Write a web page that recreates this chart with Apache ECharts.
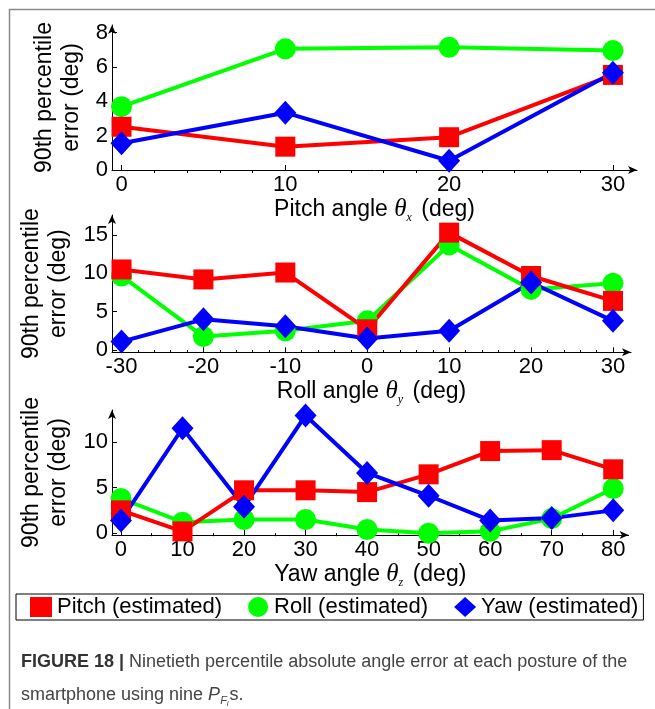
<!DOCTYPE html>
<html><head><meta charset="utf-8">
<script src="https://cdn.jsdelivr.net/npm/echarts@6/dist/echarts.min.js"></script>
<style>html,body{margin:0;padding:0;background:#fff}#c{width:655px;height:709px}</style>
</head><body><div id="c"></div>
<script>
// ---- data ----
const seriesNames = ['Pitch (estimated)', 'Roll (estimated)', 'Yaw (estimated)'];

const pitchAngles = [0, 10, 20, 30];
const pitchPanelPitch = [2.52, 1.36, 1.91, 5.54];
const pitchPanelRoll  = [3.69, 7.06, 7.15, 6.96];
const pitchPanelYaw   = [1.56, 3.34, 0.54, 5.67];

const rollAngles = [-30, -20, -10, 0, 10, 20, 30];
const rollPanelPitch = [10.5, 9.2, 10.1, 2.7, 15.3, 9.65, 6.4];
const rollPanelRoll  = [9.65, 1.75, 2.5, 3.8, 13.7, 7.9, 8.7];
const rollPanelYaw   = [1.1, 4.0, 3.1, 1.5, 2.5, 8.8, 3.8];

const yawAngles = [0, 10, 20, 30, 40, 50, 60, 70, 80];
const yawPanelPitch = [2.5, 0.2, 4.7, 4.7, 4.5, 6.45, 9.0, 9.1, 7.0];
const yawPanelRoll  = [3.8, 1.2, 1.5, 1.5, 0.4, 0.0, 0.2, 1.6, 4.9];
const yawPanelYaw   = [1.4, 11.5, 2.9, 12.9, 6.6, 4.1, 1.4, 1.65, 2.5];

const xTicks1 = [0, 10, 20, 30];
const xMinor1 = [2, 4, 6, 8, 12, 14, 16, 18, 22, 24, 26, 28];
const yTicks1 = [0, 2, 4, 6, 8];
const xTicks2 = [-30, -20, -10, 0, 10, 20, 30];
const xMinor2 = [-28, -26, -24, -22, -18, -16, -14, -12, -8, -6, -4, -2, 2, 4, 6, 8, 12, 14, 16, 18, 22, 24, 26, 28];
const yTicks2 = [0, 5, 10, 15];
const xTicks3 = [0, 10, 20, 30, 40, 50, 60, 70, 80];
const xMinor3 = [5, 15, 25, 35, 45, 55, 65, 75];
const yTicks3 = [0, 5, 10];

// ---- styling ----
const FONT = '"Liberation Sans",Arial,Helvetica,sans-serif';
const SERIF = '"Liberation Serif","DejaVu Serif",serif';
const RED = '#ff0000', GREEN = '#00ff00', BLUE = '#0000ff';

const panels = [
  {xs: pitchAngles, p: pitchPanelPitch, r: pitchPanelRoll, y: pitchPanelYaw,
   grid: {left: 112, right: 18, top: 25, height: 145}, nameGap: 22,
   xmin: -0.58, xmax: 31.47, ymin: 0, ymax: 8.45,
   xt: xTicks1, xm: xMinor1, yt: yTicks1, label: 'Pitch angle ', sub: 'x'},
  {xs: rollAngles, p: rollPanelPitch, r: rollPanelRoll, y: rollPanelYaw,
   grid: {left: 112, right: 24, top: 215, height: 137.3}, nameGap: 24,
   xmin: -31.16, xmax: 32.2, ymin: -0.3, ymax: 17.6,
   xt: xTicks2, xm: xMinor2, yt: yTicks2, label: 'Roll angle ', sub: 'y'},
  {xs: yawAngles, p: yawPanelPitch, r: yawPanelRoll, y: yawPanelYaw,
   grid: {left: 112, right: 26.4, top: 410, height: 125}, nameGap: 24,
   xmin: -1.46, xmax: 82.5, ymin: -0.2, ymax: 13.5,
   xt: xTicks3, xm: xMinor3, yt: yTicks3, label: 'Yaw angle ', sub: 'z'}
];

const grids = [], xAxes = [], yAxes = [], series = [];
const zip = (xs, ys) => xs.map((x, i) => [x, ys[i]]);

panels.forEach((pn, i) => {
  grids.push(Object.assign({containLabel: false}, pn.grid));
  xAxes.push({
    type: 'value', gridIndex: i, min: pn.xmin, max: pn.xmax,
    axisLine: {show: true, onZero: false, lineStyle: {color: '#000', width: 1}, symbol: ['none', 'arrow'], symbolSize: [6, 9]},
    axisTick: {show: true, inside: true, length: 5, customValues: pn.xt, lineStyle: {color: '#000'}},
    axisLabel: {show: true, customValues: pn.xt, fontFamily: FONT, fontSize: 22, color: '#000', margin: 4},
    splitLine: {show: false},
    name: '{a|' + pn.label + '}{t|θ}{s|' + pn.sub + '}{a| (deg)}',
    nameLocation: 'middle', nameGap: pn.nameGap,
    nameTextStyle: {
      color: '#000', fontFamily: FONT, fontSize: 23,
      rich: {
        a: {fontFamily: FONT, fontSize: 23, color: '#000'},
        t: {fontFamily: SERIF, fontStyle: 'italic', fontSize: 25, color: '#000'},
        s: {fontFamily: SERIF, fontStyle: 'italic', fontSize: 12, color: '#000', padding: [16, 3, 0, 0]}
      }
    }
  });
  xAxes.push({
    type: 'value', gridIndex: i, min: pn.xmin, max: pn.xmax,
    axisLine: {show: false},
    axisTick: {show: true, inside: true, length: 3, customValues: pn.xm, lineStyle: {color: '#000'}},
    axisLabel: {show: false},
    splitLine: {show: false}
  });
  yAxes.push({
    type: 'value', gridIndex: i, min: pn.ymin, max: pn.ymax,
    axisLine: {show: true, onZero: false, lineStyle: {color: '#000', width: 1}, symbol: ['none', 'arrow'], symbolSize: [6, 9]},
    axisTick: {show: true, inside: true, length: 5, customValues: pn.yt, lineStyle: {color: '#000'}},
    axisLabel: {show: true, customValues: pn.yt, fontFamily: FONT, fontSize: 22, color: '#000', margin: 4},
    splitLine: {show: false},
    name: '90th percentile\nerror (deg)',
    nameLocation: 'middle', nameRotate: 90, nameGap: 25,
    nameTextStyle: {color: '#000', fontFamily: FONT, fontSize: 23, lineHeight: 27}
  });
  const common = {type: 'line', xAxisIndex: i * 2, yAxisIndex: i, animation: false,
    emphasis: {disabled: true}};
  series.push(Object.assign({}, common, {name: seriesNames[1], data: zip(pn.xs, pn.r),
    symbol: 'circle', symbolSize: 21, lineStyle: {color: GREEN, width: 4}, itemStyle: {color: GREEN}}));
  series.push(Object.assign({}, common, {name: seriesNames[0], data: zip(pn.xs, pn.p),
    symbol: 'rect', symbolSize: 20, lineStyle: {color: RED, width: 4}, itemStyle: {color: RED}}));
  series.push(Object.assign({}, common, {name: seriesNames[2], data: zip(pn.xs, pn.y),
    symbol: 'diamond', symbolSize: [22, 24], lineStyle: {color: BLUE, width: 4}, itemStyle: {color: BLUE}}));
});

const chart = echarts.init(document.getElementById('c'), null, {renderer: 'canvas'});
chart.setOption({
  backgroundColor: '#fff',
  animation: false,
  grid: grids, xAxis: xAxes, yAxis: yAxes, series: series,
  legend: {
    left: 16, top: 594, orient: 'horizontal',
    borderColor: '#000', borderWidth: 1, padding: [2, 5, 2, 14],
    itemGap: 26, itemWidth: 22, itemHeight: 20,
    textStyle: {fontFamily: FONT, fontSize: 22, color: '#000', lineHeight: 22},
    data: [
      {name: seriesNames[0], icon: 'rect', itemStyle: {color: RED}},
      {name: seriesNames[1], icon: 'circle', itemStyle: {color: GREEN}},
      {name: seriesNames[2], icon: 'diamond', itemStyle: {color: BLUE}}
    ]
  },
  graphic: [
    {type: 'rect', left: 7, top: 7, shape: {width: 700, height: 760},
     style: {fill: 'none', stroke: '#8a8a8a', lineWidth: 1.5}, silent: true},
    {type: 'text', left: 21, top: 653, silent: true,
     style: {
       text: '{b|FIGURE 18 | }{n|Ninetieth percentile absolute angle error at each posture of the}',
       rich: {
         b: {fontFamily: FONT, fontWeight: 'bold', fontSize: 18, fill: '#333'},
         n: {fontFamily: FONT, fontSize: 18, fill: '#444'}
       }
     }},
    {type: 'text', left: 21, top: 686, silent: true,
     style: {
       text: '{n|smartphone using nine }{i|P}{s|F}{ss|i}{n|s.}',
       rich: {
         n: {fontFamily: FONT, fontSize: 18, fill: '#444'},
         i: {fontFamily: FONT, fontStyle: 'italic', fontSize: 18, fill: '#444'},
         s: {fontFamily: FONT, fontStyle: 'italic', fontSize: 11, fill: '#444', padding: [11, 0, 0, 0]},
         ss: {fontFamily: FONT, fontStyle: 'italic', fontSize: 8, fill: '#444', padding: [17, 1, 0, 0]}
       }
     }}
  ]
});
</script></body></html>
